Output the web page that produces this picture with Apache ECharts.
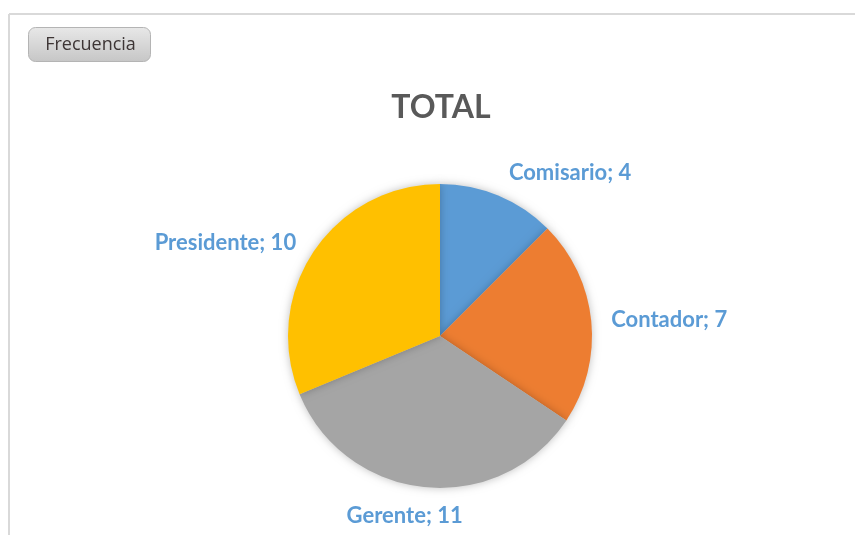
<!DOCTYPE html>
<html>
<head>
<meta charset="utf-8">
<script src="https://cdn.jsdelivr.net/npm/echarts@6/dist/echarts.min.js"></script>
<style>
  html, body { margin: 0; padding: 0; background: #fff; }
  #chart { width: 855px; height: 535px; }
</style>
</head>
<body>
<div id="chart"></div>
<script>
var categories = ['Comisario', 'Contador', 'Gerente', 'Presidente'];
var values = [4, 7, 11, 10];
var colors = ['#5b9bd5', '#ed7d31', '#a5a5a5', '#ffc000'];

var myChart = echarts.init(document.getElementById('chart'));

var data = [];
for (var i = 0; i < categories.length; i++) {
  data.push({ name: categories[i], value: values[i], itemStyle: { color: colors[i] } });
}

var option = {
  animation: false,
  title: {
    text: 'TOTAL',
    left: 436,
    textAlign: 'center',
    top: 87,
    textStyle: { fontFamily: 'Lato', fontWeight: 'bold', fontSize: 32, color: '#595959' }
  },
  graphic: [
    { type: 'line', shape: { x1: 9, y1: 14, x2: 855, y2: 14 }, style: { stroke: '#d9d9d9', lineWidth: 2 } },
    { type: 'line', shape: { x1: 9, y1: 14, x2: 9, y2: 535 }, style: { stroke: '#d9d9d9', lineWidth: 2 } },
    {
      type: 'group', left: 28, top: 27,
      children: [
        {
          type: 'rect', shape: { x: 0, y: 0, width: 122, height: 34, r: 7 },
          style: {
            fill: new echarts.graphic.LinearGradient(0, 0, 0, 1, [
              { offset: 0, color: '#e8e8e8' }, { offset: 1, color: '#c6c6c6' }
            ]),
            stroke: '#b4b4b4', lineWidth: 1
          }
        },
        {
          type: 'text', x: 62, y: 17,
          style: { text: 'Frecuencia', align: 'center', verticalAlign: 'middle', font: '18px "Open Sans"', fill: '#3d3535' }
        }
      ]
    }
  ],
  series: [{
    type: 'pie',
    center: [440, 336],
    radius: ['0%', 152],
    startAngle: 90,
    clockwise: true,
    itemStyle: { shadowBlur: 8, shadowColor: 'rgba(0,0,0,0.25)' },
    label: {
      show: true,
      position: 'outside',
      formatter: '{b}; {c}',
      fontFamily: 'Lato',
      fontWeight: 'bold',
      fontSize: 22,
      color: '#5b9bd5'
    },
    labelLine: { show: false, length: 15, length2: 0 },
    labelLayout: function (p) {
      // Excel centres the bottom label under the slice
      if (p.dataIndex === 2) {
        return { dx: p.labelRect.width / 2 - 14, dy: 14 };
      }
      if (p.dataIndex === 0) {
        return { dy: -9 };
      }
    },
    emphasis: { disabled: true },
    data: data
  }]
};

myChart.setOption(option);

window.addEventListener('resize', function () {
  myChart.resize();
});
</script>
</body>
</html>
